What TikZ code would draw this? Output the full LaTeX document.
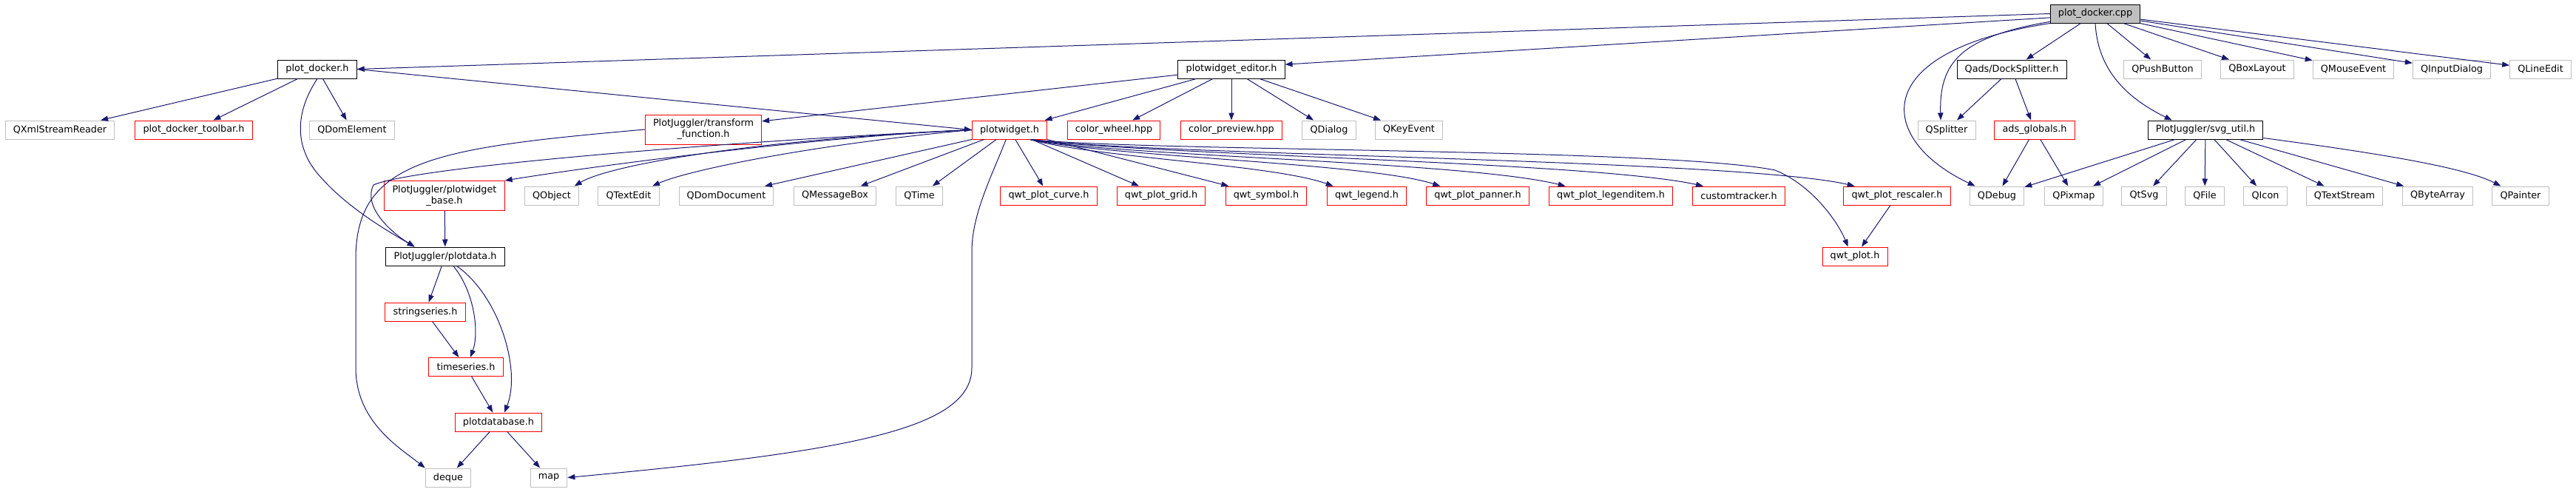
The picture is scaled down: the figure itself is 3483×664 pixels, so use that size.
\documentclass[tikz,border=0pt]{standalone}
\usepackage{fontspec}
\setmainfont{DejaVu Sans}
\usepackage{tikz}
\usetikzlibrary{arrows.meta}
\usepackage{xcolor}
\definecolor{edgeblue}{HTML}{191970}
\definecolor{boxred}{HTML}{FF0000}
\definecolor{boxgray}{HTML}{BFBFBF}

\begin{document}
\begin{tikzpicture}[x=0.75pt,y=-0.75pt,
	hdr/.style={draw=black,line width=0.75pt,fill=white,inner xsep=8pt,minimum height=18.75pt,font=\fontsize{9.6pt}{11.25pt}\selectfont},
	redhdr/.style={hdr,draw=boxred},
	syshdr/.style={hdr,draw=boxgray},
	roothdr/.style={hdr,fill=boxgray},
	twoline/.style={align=center,minimum height=30pt},
	incl/.style={draw=edgeblue,line width=0.75pt,-{Triangle[length=7.5pt,width=5.5pt]}}]
				\useasboundingbox (0,0) rectangle (3483,664);
				\node[roothdr] (pdcpp) at (2833,18.5) {plot\_docker.cpp};
				\node[hdr] (pdh) at (429,93.5) {plot\_docker.h};
				\node[hdr] (pwe) at (1665,93.5) {plotwidget\_editor.h};
				\node[hdr] (dock) at (2720,93.5) {Qads/DockSplitter.h};
				\node[syshdr] (qpush) at (2924,93.5) {QPushButton};
				\node[syshdr] (qbox) at (3052,93.5) {QBoxLayout};
				\node[syshdr] (qmouse) at (3182,93.5) {QMouseEvent};
				\node[syshdr] (qinput) at (3315,93.5) {QInputDialog};
				\node[syshdr] (qline) at (3435,93.5) {QLineEdit};
				\node[syshdr] (qxml) at (81,175.5) {QXmlStreamReader};
				\node[redhdr] (toolbar) at (262,175.5) {plot\_docker\_toolbar.h};
				\node[syshdr] (qdomel) at (476,175.5) {QDomElement};
				\node[redhdr,twoline] (tf) at (951,175) {PlotJuggler/transform\\\_function.h};
				\node[redhdr] (pw) at (1365,175.5) {plotwidget.h};
				\node[redhdr] (cwheel) at (1506,175.5) {color\_wheel.hpp};
				\node[redhdr] (cprev) at (1665,175.5) {color\_preview.hpp};
				\node[syshdr] (qdialog) at (1797,175.5) {QDialog};
				\node[syshdr] (qkey) at (1905,175.5) {QKeyEvent};
				\node[syshdr] (qsplit) at (2632,175.5) {QSplitter};
				\node[redhdr] (ads) at (2751,175.5) {ads\_globals.h};
				\node[hdr] (svg) at (2982,175.5) {PlotJuggler/svg\_util.h};
				\node[redhdr,twoline] (pwbase) at (601,264.5) {PlotJuggler/plotwidget\\\_base.h};
				\node[syshdr] (qobj) at (746,264.5) {QObject};
				\node[syshdr] (qtext) at (850,264.5) {QTextEdit};
				\node[syshdr] (qdomdoc) at (982,264.5) {QDomDocument};
				\node[syshdr] (qmsg) at (1129,264.5) {QMessageBox};
				\node[syshdr] (qtime) at (1243,264.5) {QTime};
				\node[redhdr] (qcurve) at (1418,264.5) {qwt\_plot\_curve.h};
				\node[redhdr] (qgrid) at (1570,264.5) {qwt\_plot\_grid.h};
				\node[redhdr] (qsym) at (1712,264.5) {qwt\_symbol.h};
				\node[redhdr] (qleg) at (1848,264.5) {qwt\_legend.h};
				\node[redhdr] (qpan) at (1998,264.5) {qwt\_plot\_panner.h};
				\node[redhdr] (qli) at (2178,264.5) {qwt\_plot\_legenditem.h};
				\node[redhdr] (ctrack) at (2351,264.5) {customtracker.h};
				\node[redhdr] (qresc) at (2565,264.5) {qwt\_plot\_rescaler.h};
				\node[syshdr] (qdebug) at (2700,264.5) {QDebug};
				\node[syshdr] (qpix) at (2804,264.5) {QPixmap};
				\node[syshdr] (qtsvg) at (2899,264.5) {QtSvg};
				\node[syshdr] (qfile) at (2981,264.5) {QFile};
				\node[syshdr] (qicon) at (3063,264.5) {QIcon};
				\node[syshdr] (qts) at (3170,264.5) {QTextStream};
				\node[syshdr] (qba) at (3296,264.5) {QByteArray};
				\node[syshdr] (qpaint) at (3408,264.5) {QPainter};
				\node[hdr] (pdata) at (602,346.5) {PlotJuggler/plotdata.h};
				\node[redhdr] (qplot) at (2508,346.5) {qwt\_plot.h};
				\node[redhdr] (sseries) at (575,421.5) {stringseries.h};
				\node[redhdr] (tseries) at (630,496) {timeseries.h};
				\node[redhdr] (pdbase) at (674,570.5) {plotdatabase.h};
				\node[syshdr] (deque) at (606,645.5) {deque};
				\node[syshdr] (map) at (742,645.5) {map};
				\draw[incl] (pdcpp.west) -- (pdh.east);
				\draw[incl] (pdcpp.185) -- (pwe.5);
				\draw[incl] (pdcpp.190) .. controls (2650,50) and (2622,85) .. ([xshift=-6pt]qsplit.north);
				\draw[incl] (pdcpp.192) .. controls (2520,70) and (2540,190) .. ([xshift=-22pt]qdebug.north);
				\draw[incl] (pdcpp) -- (dock);
				\draw[incl] (pdcpp.south) .. controls (2836,90) and (2870,130) .. ([xshift=-34pt]svg.north);
				\draw[incl] (pdcpp) -- (qpush);
				\draw[incl] (pdcpp) -- (qbox);
				\draw[incl] (pdcpp) -- (qmouse);
				\draw[incl] (pdcpp) -- (qinput);
				\draw[incl] (pdcpp) -- (qline);
				\draw[incl] (dock) -- (qsplit);
				\draw[incl] (dock) -- (ads);
				\draw[incl] (ads) -- (qdebug);
				\draw[incl] (ads) -- (qpix);
				\draw[incl] (svg) -- (qdebug);
				\draw[incl] (svg) -- (qpix);
				\draw[incl] (svg) -- (qtsvg);
				\draw[incl] (svg) -- (qfile);
				\draw[incl] (svg) -- (qicon);
				\draw[incl] (svg) -- (qts);
				\draw[incl] (svg) -- (qba);
				\draw[incl] (svg.-8) .. controls (3200,205) and (3330,225) .. ([xshift=-20pt]qpaint.north);
				\draw[incl] (pdh) -- (qxml);
				\draw[incl] (pdh) -- (toolbar);
				\draw[incl] (pdh) -- (qdomel);
				\draw[incl] (pdh.south) .. controls (400,150) and (395,200) .. (436,242) .. controls (470,280) and (520,310) .. ([xshift=-31pt]pdata.north);
				\draw[incl] (pdh.east) -- (pw.west);
				\draw[incl] (pwe.186) -- (tf.8);
				\draw[incl] (pwe) -- (pw);
				\draw[incl] (pwe) -- (cwheel);
				\draw[incl] (pwe) -- (cprev);
				\draw[incl] (pwe) -- (qdialog);
				\draw[incl] (pwe) -- (qkey);
				\draw[incl] (tf.west) .. controls (590,200) and (481,215) .. (481,350) -- (481,497) .. controls (481,570) and (540,605) .. (deque.north west);
				\draw[incl] (pw.west) .. controls (1000,190) and (560,225) .. (505,250) .. controls (490,280) and (530,315) .. ([xshift=-31pt]pdata.north);
				\draw[incl] (pw.west) .. controls (1100,185) and (800,225) .. (pwbase.north east);
				\draw[incl] (pw.west) .. controls (1000,190) and (820,225) .. ([xshift=23pt]qobj.north);
				\draw[incl] (pw.west) .. controls (1100,195) and (930,230) .. ([xshift=24pt]qtext.north);
				\draw[incl] (pw.south west) -- ([xshift=39pt]qdomdoc.north);
				\draw[incl] (pw) -- (qmsg);
				\draw[incl] (pw) -- (qtime);
				\draw[incl] (pw) -- (qcurve);
				\draw[incl] (pw) -- (qgrid);
				\draw[incl] (pw) -- (qsym);
				\draw[incl] (pw.-25) .. controls (1480,213) and (1720,222) .. ([xshift=-34pt]qleg.north);
				\draw[incl] (pw.-25) .. controls (1500,212) and (1850,220) .. ([xshift=-38pt]qpan.north);
				\draw[incl] (pw.-25) .. controls (1520,212) and (1980,218) .. ([xshift=-46pt]qli.north);
				\draw[incl] (pw.-25) .. controls (1550,210) and (2150,218) .. ([xshift=-36pt]ctrack.north);
				\draw[incl] (pw.-25) .. controls (1550,210) and (2350,215) .. ([xshift=-43pt]qresc.north);
				\draw[incl] (pw.-25) .. controls (1550,205) and (2250,200) .. (2400,230) .. controls (2450,250) and (2485,300) .. ([xshift=-7pt]qplot.north);
				\draw[incl] (pw.-110) .. controls (1340,240) and (1314,290) .. (1314,340) -- (1314,497) .. controls (1314,580) and (1150,610) .. (map.east);
				\draw[incl] (qresc) -- (qplot);
				\draw[incl] (pwbase) -- (pdata);
				\draw[incl] (pdata) -- (sseries);
				\draw[incl] (pdata.-50) .. controls (642,395) and (648,450) .. ([xshift=4.5pt]tseries.north);
				\draw[incl] (pdata.-40) .. controls (675,400) and (705,500) .. ([xshift=6pt]pdbase.north);
				\draw[incl] (sseries) -- (tseries);
				\draw[incl] (tseries) -- (pdbase);
				\draw[incl] (pdbase) -- (deque);
				\draw[incl] (pdbase) -- (map);
			\end{tikzpicture}
\end{document}
